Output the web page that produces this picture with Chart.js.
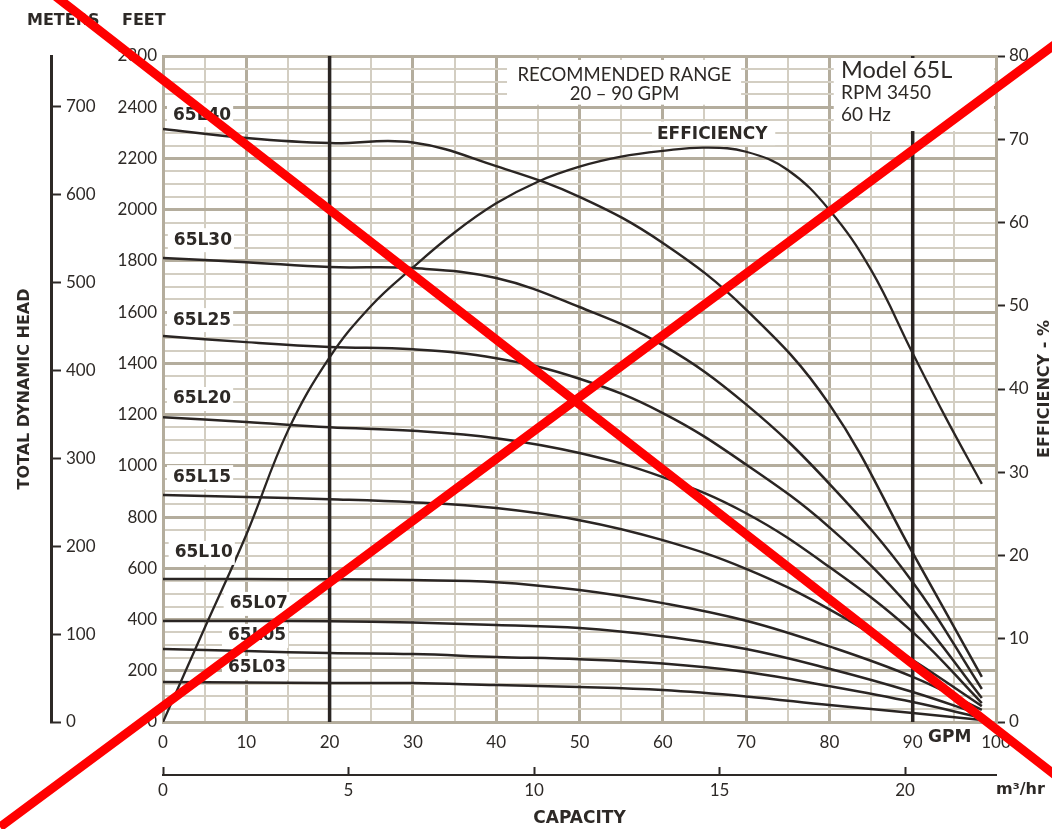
<!DOCTYPE html>
<html>
<head>
<meta charset="utf-8">
<script src="https://cdn.jsdelivr.net/npm/chart.js@4.4.1/dist/chart.umd.min.js"></script>
<style>
html, body { margin: 0; padding: 0; background: #fff; }
canvas { display: block; }
</style>
</head>
<body>
<canvas id="pumpChart" width="1052" height="829"></canvas>
<script>
// capacity (GPM) where the head curves were read
const capacity = [0, 10, 20, 30, 40, 50, 60, 70, 80, 90, 98.3];
// total dynamic head, feet
const head65L40 = [2315, 2280, 2260, 2262, 2170, 2050, 1870, 1610, 1240, 660, 176];
const head65L30 = [1811, 1795, 1776, 1772, 1733, 1620, 1471, 1240, 930, 546, 129];
const head65L25 = [1507, 1483, 1464, 1455, 1420, 1340, 1206, 1005, 760, 437, 94];
const head65L20 = [1190, 1171, 1151, 1137, 1108, 1050, 956, 815, 605, 351, 74];
const head65L15 = [886, 878, 870, 858, 835, 788, 710, 598, 440, 242, 62];
const head65L10 = [558, 558, 557, 554, 546, 515, 464, 395, 295, 176, 47];
const head65L07 = [394, 394, 393, 388, 379, 367, 335, 285, 208, 117, 27];
const head65L05 = [285, 277, 269, 265, 254, 245, 228, 195, 140, 78, 16];
const head65L03 = [156, 154, 152, 152, 144, 137, 125, 100, 66, 35, 8];

const seriesNames = ['65L40', '65L30', '65L25', '65L20', '65L15', '65L10', '65L07', '65L05', '65L03'];
const seriesHeads = [head65L40, head65L30, head65L25, head65L20, head65L15, head65L10, head65L07, head65L05, head65L03];

// efficiency curve (%)
const effCapacity = [0, 5, 10, 15, 20, 25, 30, 35, 40, 45, 50, 55, 60, 65, 70, 75, 80, 85, 90, 94, 98.3];
const efficiency = [0, 11.3, 22.5, 35.0, 43.8, 50.0, 54.6, 58.8, 62.3, 64.9, 66.7, 67.9, 68.6, 69.0, 68.5, 66.3, 61.5, 54.3, 44.3, 36.5, 28.6];

// recommended range limits (GPM)
const rangeLimits = [20, 90];

// tick labels
const gpmTickLabels = [0, 10, 20, 30, 40, 50, 60, 70, 80, 90, 100];
const feetTickValues = [0, 200, 400, 600, 800, 1000, 1200, 1400, 1600, 1800, 2000, 2200, 2400, 2600];
const feetTickLabels = ['0', '200', '400', '600', '800', '1000', '1200', '1400', '1600', '1800', '2000', '2200', '2400', '2800'];

const ink = '#2d2926';
const lineInk = '#2a2523';
const gridMajor = '#b4ad9d';
const gridMinor = '#d3cec2';
const boldFont = 'DejaVu Sans';

// where the curve names sit (GPM, feet)
const curveLabelPos = [[1.2, 2369], [1.3, 1881], [1.2, 1569], [1.2, 1261], [1.2, 956], [1.4, 660], [8.0, 461], [7.8, 336], [7.8, 211]];

function pts(xs, ys) {
  return xs.map((x, i) => ({x: x, y: ys[i]}));
}

let datasets = seriesNames.map((name, i) => ({
  label: name,
  data: pts(capacity, seriesHeads[i]),
  borderColor: lineInk,
  borderWidth: 2.5,
  pointRadius: 0,
  tension: 0.4,
  yAxisID: 'ft'
}));

datasets.push({
  label: 'EFFICIENCY',
  data: pts(effCapacity, efficiency),
  borderColor: lineInk,
  borderWidth: 2.3,
  pointRadius: 0,
  tension: 0.4,
  yAxisID: 'eff'
});

rangeLimits.forEach(g => {
  datasets.push({
    label: 'range ' + g,
    data: pts([g, g], [0, 2600]),
    borderColor: lineInk,
    borderWidth: 3.5,
    pointRadius: 0,
    yAxisID: 'ft'
  });
});

function whiteBox(ctx, x1, y1, x2, y2) {
  ctx.fillStyle = '#fff';
  ctx.fillRect(x1, y1, x2 - x1, y2 - y1);
}

function text(ctx, str, x, y, font, align) {
  ctx.font = font;
  ctx.fillStyle = ink;
  ctx.textAlign = align || 'left';
  ctx.textBaseline = 'middle';
  ctx.fillText(str, x, y);
}

const overlay = {
  id: 'overlay',
  afterDatasetsDraw(chart) {
    const ctx = chart.ctx;
    const a = chart.chartArea;
    const px = v => chart.scales.x.getPixelForValue(v);
    const py = v => chart.scales.ft.getPixelForValue(v);
    ctx.save();

    // recommended range note
    whiteBox(ctx, px(41.3), a.top + 4, px(69.4), py(2410));
    text(ctx, 'RECOMMENDED RANGE', px(55.4), 75, '18.5px Lato', 'center');
    text(ctx, '20 \u2013 90 GPM', px(55.4), 94, '18.5px Lato', 'center');

    // model box
    whiteBox(ctx, px(80.4) + 1, a.top + 2, a.right - 2, py(2307));
    text(ctx, 'Model 65L', px(81.4), 70, '23.5px Lato');
    text(ctx, 'RPM 3450', px(81.4), 93, '19px Lato');
    text(ctx, '60 Hz', px(81.4), 115, '19px Lato');

    // efficiency label
    whiteBox(ctx, px(58.7), py(2345), px(73.5), py(2252));
    text(ctx, 'EFFICIENCY', px(59.3), 135, 'bold 17px ' + boldFont);

    // curve names
    ctx.font = 'bold 17px ' + boldFont;
    seriesNames.forEach((name, i) => {
      const x = px(curveLabelPos[i][0]);
      const y = py(curveLabelPos[i][1]);
      const w = ctx.measureText(name).width;
      whiteBox(ctx, x - 6, y - 12, x + w + 2, y + 12);
      text(ctx, name, x, y, 'bold 17px ' + boldFont);
    });

    // headings and units
    text(ctx, 'METERS', 27, 21, 'bold 16px ' + boldFont);
    text(ctx, 'FEET', 122, 21, 'bold 16px ' + boldFont);
    text(ctx, 'GPM', 928, 738, 'bold 17px ' + boldFont);
    text(ctx, 'm\u00b3/hr', 996, 790, 'bold 16px ' + boldFont);

    ctx.translate(1045, (a.top + a.bottom) / 2);
    ctx.rotate(-Math.PI / 2);
    text(ctx, 'EFFICIENCY - %', 0, 0, 'bold 16px ' + boldFont, 'center');
    ctx.restore();
  },
  afterDraw(chart) {
    // red cross drawn over the whole sheet
    const ctx = chart.ctx;
    ctx.save();
    ctx.strokeStyle = '#ff0000';
    ctx.lineWidth = 9;
    ctx.beginPath();
    ctx.moveTo(0, -47);
    ctx.lineTo(1100, 810);
    ctx.moveTo(0, 827);
    ctx.lineTo(1100, 11);
    ctx.stroke();
    ctx.restore();
  }
};

Chart.defaults.font.family = 'Lato';
Chart.defaults.font.size = 17;
Chart.defaults.color = ink;

const ctx = document.getElementById('pumpChart').getContext('2d');
window.pumpChart = new Chart(ctx, {
  type: 'line',
  data: {datasets: datasets},
  plugins: [overlay],
  options: {
    responsive: false,
    animation: false,
    layout: {padding: {top: 56, left: 0, right: 0, bottom: 0}},
    plugins: {legend: {display: false}, tooltip: {enabled: false}},
    scales: {
      x: {
        type: 'linear', position: 'bottom', weight: 0, min: 0, max: 100,
        ticks: {
          stepSize: 5, autoSkip: false, maxRotation: 0, padding: 10, includeBounds: false,
          callback: v => gpmTickLabels.includes(v) ? String(v) : ''
        },
        grid: {
          drawTicks: false,
          color: c => (c.tick && c.tick.value % 10 === 0) ? gridMajor : gridMinor,
          lineWidth: c => (c.tick && c.tick.value % 10 === 0) ? 3 : 2
        },
        border: {color: gridMajor, width: 3},
        afterFit: s => { s.height = 53; }
      },
      m3: {
        type: 'linear', position: 'bottom', weight: 1, min: 0, max: 22.45,
        ticks: {stepSize: 5, autoSkip: false, maxRotation: 0, padding: 13, includeBounds: false},
        grid: {drawOnChartArea: false, drawTicks: true, tickLength: -8, tickColor: ink, tickWidth: 2},
        border: {color: ink, width: 2},
        title: {display: true, text: 'CAPACITY', color: ink, font: {family: boldFont, size: 17, weight: 'bold'}, padding: {top: 0, bottom: 0}},
        afterFit: s => { s.height = 54; }
      },
      ft: {
        type: 'linear', position: 'left', weight: 0, min: 0, max: 2600,
        ticks: {
          stepSize: 50, autoSkip: false, padding: 6, maxTicksLimit: 100, includeBounds: false,
          callback: v => {
            const i = feetTickValues.indexOf(v);
            return i >= 0 ? feetTickLabels[i] : '';
          }
        },
        grid: {
          drawTicks: false,
          color: c => (c.tick && c.tick.value % 200 === 0) ? gridMajor : gridMinor,
          lineWidth: c => (c.tick && c.tick.value % 200 === 0) ? 3 : 2
        },
        border: {color: gridMajor, width: 3},
        afterFit: s => { s.width = 112; }
      },
      m: {
        type: 'linear', position: 'left', weight: 1, min: 0, max: 758,
        ticks: {stepSize: 100, autoSkip: false, mirror: true, padding: 15, includeBounds: false},
        grid: {drawOnChartArea: false, drawTicks: true, tickLength: -10, tickColor: ink, tickWidth: 2},
        border: {color: ink, width: 3},
        title: {display: true, text: 'TOTAL DYNAMIC HEAD', color: ink, font: {family: boldFont, size: 16, weight: 'bold'}, padding: {top: 15, bottom: 0}},
        afterFit: s => { s.width = 51; }
      },
      eff: {
        type: 'linear', position: 'right', min: 0, max: 80,
        ticks: {stepSize: 10, autoSkip: false, padding: 4},
        grid: {drawOnChartArea: false, drawTicks: true, tickLength: 9, tickColor: ink, tickWidth: 2},
        border: {color: gridMajor, width: 3},
        afterFit: s => { s.width = 56; }
      }
    }
  }
});
</script>
</body>
</html>
